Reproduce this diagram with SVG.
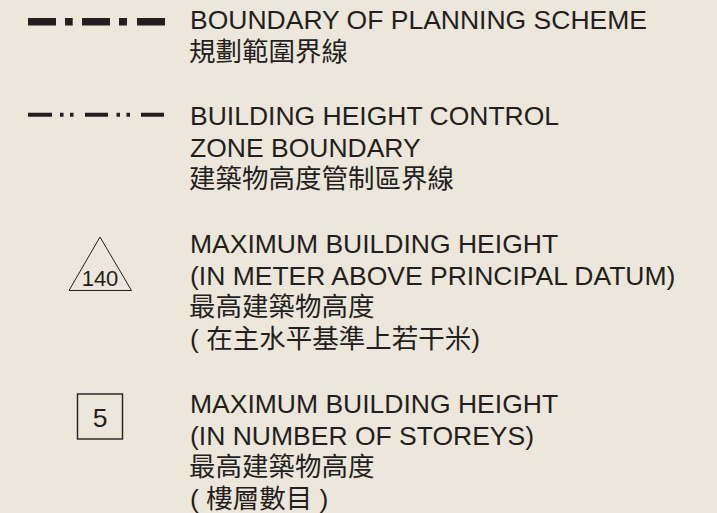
<svg xmlns="http://www.w3.org/2000/svg" width="717" height="513" viewBox="0 0 717 513">
<style>
.t{font-family:"Liberation Sans","Noto Sans CJK TC",sans-serif;font-size:26.5px;fill:#231f20}
.c{font-family:"Liberation Sans","Noto Sans CJK TC",sans-serif;font-size:26.5px;fill:#231f20}
.sym{fill:none;stroke:#231f20}
.num{font-family:"Liberation Sans",Arial,sans-serif;fill:#231f20;text-anchor:middle}
</style>
<rect width="717" height="513" fill="#ede7db"/>
<g id="connectors">
<path id="boundary-line" class="sym" stroke-width="7.6" d="M28 21.8H56M65 21.8H72.7M82 21.8H110M119 21.8H127M137 21.8H165"/>
<path id="height-zone-line" class="sym" stroke-width="4" d="M28 114.7H52M60 114.7H63.5M70 114.7H73.5M85 114.7H108M116.5 114.7H120M126.5 114.7H130M141 114.7H164"/>
</g>
<g id="legend-boundary">
<text class="t" x="190" y="29">BOUNDARY OF PLANNING SCHEME</text>
<text class="c" x="189" y="61">規劃範圍界線</text>
</g>
<g id="legend-height-zone">
<text class="t" x="190" y="125">BUILDING HEIGHT CONTROL</text>
<text class="t" x="190" y="157">ZONE BOUNDARY</text>
<text class="c" x="189" y="188">建築物高度管制區界線</text>
</g>
<g id="legend-max-height-mpd">
<path class="sym" stroke-width="1" d="M100 237L69 290.5H131.5Z"/>
<text class="num" x="100" y="286" font-size="22">140</text>
<text class="t" x="190" y="253">MAXIMUM BUILDING HEIGHT</text>
<text class="t" x="190" y="285">(IN METER ABOVE PRINCIPAL DATUM)</text>
<text class="c" x="189" y="316">最高建築物高度</text>
<text class="c" x="190" y="348">( 在主水平基準上若干米)</text>
</g>
<g id="legend-max-height-storeys">
<rect class="sym" stroke-width="1.4" x="77.5" y="394" width="45" height="45"/>
<text class="num" x="100" y="426.5" font-size="26.5">5</text>
<text class="t" x="190" y="413">MAXIMUM BUILDING HEIGHT</text>
<text class="t" x="190" y="445">(IN NUMBER OF STOREYS)</text>
<text class="c" x="189" y="476">最高建築物高度</text>
<text class="c" x="190" y="508">( 樓層數目 )</text>
</g>
</svg>
